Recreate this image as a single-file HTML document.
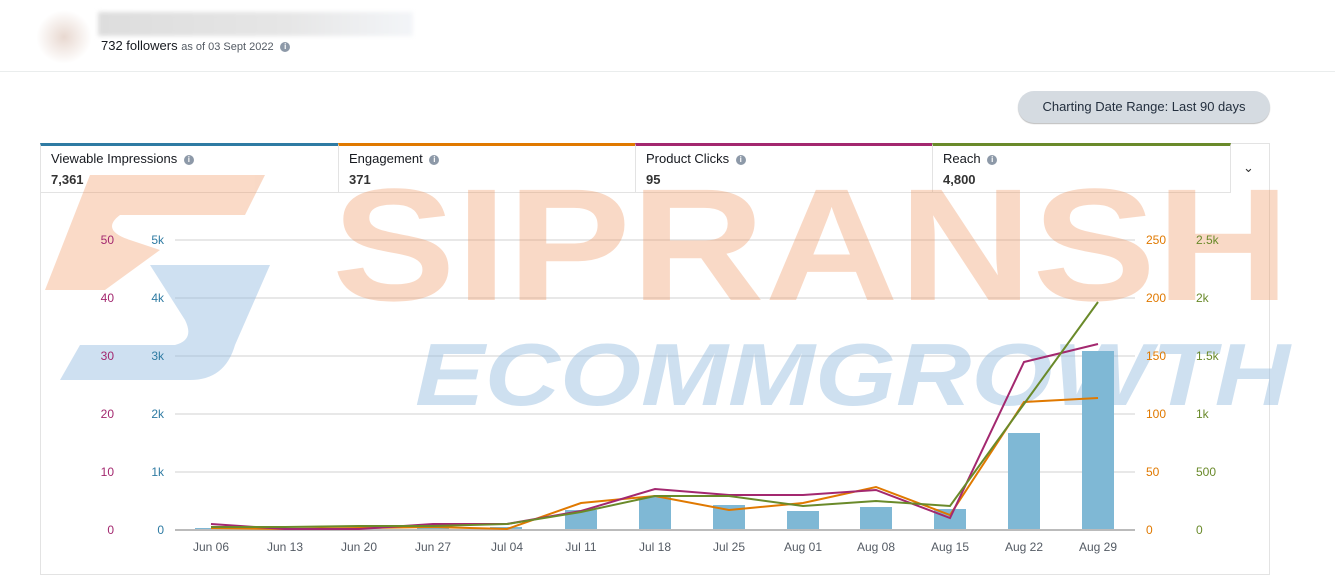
<!DOCTYPE html>
<html><head><meta charset="utf-8"><style>
body{margin:0;width:1335px;height:579px;background:#fff;font-family:"Liberation Sans","DejaVu Sans",sans-serif;position:relative;overflow:hidden;color:#16191f}
.abs{position:absolute}
.card{position:absolute;top:143px;height:50px;border:1px solid #e3e3e3;border-top:3px solid;box-sizing:border-box;background:#fff;padding:5px 10px}
.card .t{font-size:13px;color:#16191f}
.card .v{font-size:13px;font-weight:bold;margin-top:6px;color:#333}
.i{display:inline-block;width:10px;height:10px;border-radius:50%;background:#8d99a8;color:#fff;font-size:8px;text-align:center;line-height:10px;font-weight:bold;vertical-align:1px;margin-left:3px}
</style></head><body>
<div class="abs" style="left:36px;top:10px;width:56px;height:54px;background:radial-gradient(#e8d8d0,#fff 70%);"></div>
<div class="abs" style="left:98px;top:12px;width:315px;height:24px;background:linear-gradient(90deg,#ddd,#e6e6e6 60%,#f3f5f8);filter:blur(2px)"></div>
<div class="abs" style="left:101px;top:38px;font-size:13px">732 followers <span style="font-size:11px;color:#545b64">as of 03 Sept 2022</span> <span class="i">i</span></div>
<div class="abs" style="left:0;top:71px;width:1335px;height:1px;background:#eaeded"></div>
<div class="abs" style="left:1018px;top:91px;width:252px;height:32px;border-radius:16px;background:#d5dbe1;box-shadow:0 1px 1px #bbb;font-size:13px;color:#232f3e;text-align:center;line-height:31px">Charting Date Range: Last 90 days</div>
<div class="abs" style="left:40px;top:143px;width:1230px;height:432px;border:1px solid #e3e3e3;box-sizing:border-box"></div>
<div class="card" style="left:40px;width:299px;border-top-color:#2f7ba3"><div class="t">Viewable Impressions <span class="i">i</span></div><div class="v">7,361</div></div>
<div class="card" style="left:338px;width:298px;border-top-color:#e07900"><div class="t">Engagement <span class="i">i</span></div><div class="v">371</div></div>
<div class="card" style="left:635px;width:298px;border-top-color:#a3286f"><div class="t">Product Clicks <span class="i">i</span></div><div class="v">95</div></div>
<div class="card" style="left:932px;width:299px;border-top-color:#6a8a2a"><div class="t">Reach <span class="i">i</span></div><div class="v">4,800</div></div>
<div class="abs" style="left:1243px;top:160px;font-size:13px;color:#333">&#8964;</div>
<svg class="abs" style="left:0;top:0" width="1335" height="579" font-family="Liberation Sans, sans-serif" font-size="12">
<g stroke="#e8e8e8" stroke-width="2">
<line x1="175" x2="1135" y1="240" y2="240"/><line x1="175" x2="1135" y1="298" y2="298"/><line x1="175" x2="1135" y1="356" y2="356"/><line x1="175" x2="1135" y1="414" y2="414"/><line x1="175" x2="1135" y1="472" y2="472"/></g>
<g opacity="0.33">
<text x="332" y="300" font-size="160" font-weight="bold" fill="#ef8f55" textLength="958" lengthAdjust="spacingAndGlyphs">SIPRANSH</text>
<path d="M90,175 L265,175 L245,215 L120,215 Q100,230 130,240 L160,250 L105,290 L45,290 Z" fill="#ef8f55"/>
</g>
<g opacity="0.45">
<text x="415" y="405" font-size="88" font-weight="bold" font-style="italic" fill="#93bbdf" textLength="875" lengthAdjust="spacingAndGlyphs">ECOMMGROWTH</text>
<path d="M150,265 L270,265 L235,345 Q225,380 190,380 L60,380 L80,345 L175,345 Q195,340 185,320 Z" fill="#93bbdf"/>
</g>
<g text-anchor="end">
<g fill="#a3286f"><text x="114" y="244">50</text><text x="114" y="302">40</text><text x="114" y="360">30</text><text x="114" y="418">20</text><text x="114" y="476">10</text><text x="114" y="534">0</text></g>
<g fill="#2f7ba3"><text x="164" y="244">5k</text><text x="164" y="302">4k</text><text x="164" y="360">3k</text><text x="164" y="418">2k</text><text x="164" y="476">1k</text><text x="164" y="534">0</text></g>
</g>
<g fill="#e07900"><text x="1146" y="244">250</text><text x="1146" y="302">200</text><text x="1146" y="360">150</text><text x="1146" y="418">100</text><text x="1146" y="476">50</text><text x="1146" y="534">0</text></g>
<g fill="#6a8a2a"><text x="1196" y="244">2.5k</text><text x="1196" y="302">2k</text><text x="1196" y="360">1.5k</text><text x="1196" y="418">1k</text><text x="1196" y="476">500</text><text x="1196" y="534">0</text></g>
<g fill="#7fb8d5">
<rect x="195" y="528" width="32" height="2"/><rect x="417" y="528" width="32" height="2"/><rect x="490" y="527" width="32" height="3"/>
<rect x="565" y="510" width="32" height="20"/><rect x="639" y="497" width="32" height="33"/><rect x="713" y="505" width="32" height="25"/>
<rect x="787" y="511" width="32" height="19"/><rect x="860" y="507" width="32" height="23"/><rect x="934" y="509" width="32" height="21"/>
<rect x="1008" y="433" width="32" height="97"/><rect x="1082" y="351" width="32" height="179"/></g>
<line x1="175" x2="1135" y1="530" y2="530" stroke="#bbb" stroke-width="2"/>
<g fill="none" stroke-width="2">
<polyline stroke="#e07900" points="211,528 285,529 359,528 433,527 507,529 581,503 655,496 729,510 803,503 876,487 950,515 1024,402 1098,398"/>
<polyline stroke="#a3286f" points="211,524 285,529 359,529 433,524 507,524 581,511 655,489 729,495 803,495 876,490 950,518 1024,362 1098,344"/>
<polyline stroke="#6a8a2a" points="211,527 285,527 359,526 433,526 507,524 581,512 655,496 729,496 803,506 876,501 950,506 1024,404 1098,302"/>
</g>
<g fill="#545b64" text-anchor="middle">
<text x="211" y="551">Jun 06</text><text x="285" y="551">Jun 13</text><text x="359" y="551">Jun 20</text><text x="433" y="551">Jun 27</text><text x="507" y="551">Jul 04</text><text x="581" y="551">Jul 11</text><text x="655" y="551">Jul 18</text><text x="729" y="551">Jul 25</text><text x="803" y="551">Aug 01</text><text x="876" y="551">Aug 08</text><text x="950" y="551">Aug 15</text><text x="1024" y="551">Aug 22</text><text x="1098" y="551">Aug 29</text></g>
</svg>
</body></html>
